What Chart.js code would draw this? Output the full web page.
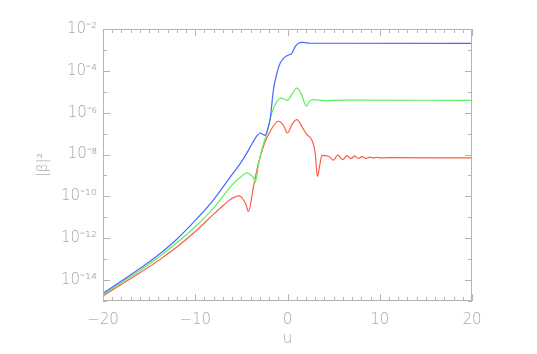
<!DOCTYPE html>
<html>
<head>
<meta charset="utf-8">
<script src="https://cdn.jsdelivr.net/npm/chart.js@4.4.1/dist/chart.umd.min.js"></script>
<style>
  html, body { margin: 0; padding: 0; background: #ffffff; }
  #wrap { width: 537px; height: 354px; position: relative; }
</style>
</head>
<body>
<div id="wrap"><canvas id="c" width="537" height="354"></canvas></div>
<script>
// ---- data (u values and log10 of |beta|^2) ----
const uBlue = [-20,-18,-16,-14,-12,-10,-8,-6,-5,-4.4,-3.8,-3.3,-2.96,-2.6,-2.42,-2.2,-1.88,-1.52,-1.15,-0.79,-0.43,0.11,0.48,0.83,1.19,1.7,2.46,20];
const blueLog10 = [-14.63,-14.05,-13.45,-12.8,-12.05,-11.15,-10.15,-8.95,-8.35,-7.92,-7.45,-7.1,-6.97,-7.05,-7.08,-6.85,-6.29,-4.9,-4.11,-3.63,-3.40,-3.24,-3.16,-2.84,-2.68,-2.64,-2.68,-2.69];

const uGreen = [-20,-18,-16,-14,-12,-10,-8,-6,-5,-4.4,-3.9,-3.68,-3.5,-3.14,-2.78,-2.23,-1.69,-1.15,-0.68,-0.3,0,0.5,1.02,1.5,2.05,2.4,2.82,4,6,20];
const greenLog10 = [-14.70,-14.12,-13.54,-12.92,-12.22,-11.45,-10.55,-9.45,-9.05,-8.88,-9.0,-9.11,-9.33,-8.48,-7.76,-6.97,-6.01,-5.46,-5.30,-5.36,-5.41,-5.1,-4.83,-5.1,-5.69,-5.45,-5.38,-5.42,-5.40,-5.41];

const uRed = [-20,-18,-16,-14,-12,-10,-8,-7,-6.2,-5.24,-4.8,-4.5,-4.23,-3.68,-3.14,-2.6,-1.88,-0.98,-0.45,0,0.5,1.02,1.6,2.1,2.5,2.8,3.0,3.25,3.5,3.73,4.45,4.99,5.42,6.0,6.44,6.87,7.27,7.7,8.06,8.5,8.9,9.3,9.7,10.1,11,20];
const redLog10 = [-14.76,-14.2,-13.65,-13.07,-12.42,-11.68,-10.85,-10.45,-10.15,-9.98,-10.15,-10.4,-10.72,-9.51,-8.40,-7.6,-6.89,-6.41,-6.6,-6.97,-6.55,-6.33,-6.7,-7.05,-7.2,-7.5,-7.92,-9.05,-8.5,-8.04,-8.08,-8.27,-8.03,-8.24,-8.05,-8.2,-8.08,-8.19,-8.1,-8.18,-8.12,-8.17,-8.13,-8.16,-8.15,-8.16];

const xTicks = [-20,-10,0,10,20];
const yTickExps = [-14,-12,-10,-8,-6,-4,-2];
const xTitle = 'u';
const yTitle = '|\u03B2|\u00B2';

// ---- helpers ----
const SUP = {'-':'\u207B','0':'\u2070','1':'\u00B9','2':'\u00B2','3':'\u00B3','4':'\u2074','5':'\u2075','6':'\u2076','7':'\u2077','8':'\u2078','9':'\u2079'};
function supText(n){ return String(n).split('').map(ch => SUP[ch]).join(''); }
function toPoints(us, logs){ return us.map((u,i) => ({x: u, y: Math.pow(10, logs[i])})); }

const AXIS = '#b4b4b4';
const TXT = '#a8a8a8';
const FONT = 'DejaVu Sans';

const frameTicks = {
  id: 'frameTicks',
  afterDatasetsDraw(chart){
    const {ctx, chartArea: a, scales: {x, y}} = chart;
    ctx.save();
    ctx.strokeStyle = AXIS;
    ctx.lineWidth = 1;
    ctx.beginPath();
    ctx.rect(a.left + 0.5, a.top + 0.5, a.right - a.left - 1, a.bottom - a.top - 1);
    ctx.stroke();
    ctx.beginPath();
    for (let v = -20; v <= 20; v += 1) {
      const px = Math.round(x.getPixelForValue(v)) + 0.5;
      const len = (v % 10 === 0) ? 7 : 4;
      ctx.moveTo(px, a.bottom); ctx.lineTo(px, a.bottom - len);
      ctx.moveTo(px, a.top); ctx.lineTo(px, a.top + len);
    }
    for (let e = -15; e <= -2; e++) {
      const py = Math.round(y.getPixelForValue(Math.pow(10, e))) + 0.5;
      const len = (e % 2 === 0) ? 7 : 4;
      ctx.moveTo(a.left, py); ctx.lineTo(a.left + len, py);
      ctx.moveTo(a.right, py); ctx.lineTo(a.right - len, py);
    }
    ctx.stroke();
    // y axis title, rotated, centred on the plot's vertical middle
    ctx.fillStyle = TXT;
    ctx.font = '300 14px "' + FONT + '"';
    ctx.textAlign = 'center';
    ctx.textBaseline = 'middle';
    ctx.translate(43, (a.top + a.bottom) / 2);
    ctx.rotate(-Math.PI / 2);
    ctx.fillText(yTitle, 0, 0);
    ctx.restore();
  }
};

const common = { borderWidth: 1.2, pointRadius: 0, fill: false, cubicInterpolationMode: 'monotone' };

new Chart(document.getElementById('c'), {
  type: 'line',
  data: {
    datasets: [
      Object.assign({ label: 'blue',  data: toPoints(uBlue, blueLog10),   borderColor: '#4a68ff' }, common),
      Object.assign({ label: 'green', data: toPoints(uGreen, greenLog10), borderColor: '#5cf05c' }, common),
      Object.assign({ label: 'red',   data: toPoints(uRed, redLog10),     borderColor: '#ff5a45' }, common)
    ]
  },
  options: {
    responsive: false,
    animation: false,
    events: [],
    layout: { padding: { top: 29, right: 65, left: 0, bottom: 0 } },
    plugins: { legend: { display: false }, tooltip: { enabled: false } },
    scales: {
      x: {
        type: 'linear', min: -20, max: 20,
        grid: { display: false, drawTicks: false },
        border: { display: false },
        afterBuildTicks: s => { s.ticks = xTicks.map(v => ({value: v})); },
        ticks: {
          color: TXT, font: { family: FONT, size: 15, weight: '300' }, padding: 10,
          maxRotation: 0, autoSkip: false,
          callback: v => (v < 0 ? '\u2212' + Math.abs(v) : String(v))
        },
        title: { display: true, text: xTitle, color: TXT, font: { family: FONT, size: 15, weight: '300' }, padding: { top: 0, bottom: 6 } },
        afterFit: s => { s.height = 53; }
      },
      y: {
        type: 'logarithmic', min: 1e-15, max: 1e-2,
        grid: { display: false, drawTicks: false },
        border: { display: false },
        afterBuildTicks: s => { s.ticks = yTickExps.map(e => ({value: Math.pow(10, e)})); },
        ticks: {
          color: TXT, font: { family: FONT, size: 15, weight: '300' }, padding: 6,
          autoSkip: false,
          callback: v => '10' + supText(Math.round(Math.log10(v)))
        },
        title: { display: false, text: yTitle },
        afterFit: s => { s.width = 103; }
      }
    }
  },
  plugins: [frameTicks]
});
</script>
</body>
</html>
